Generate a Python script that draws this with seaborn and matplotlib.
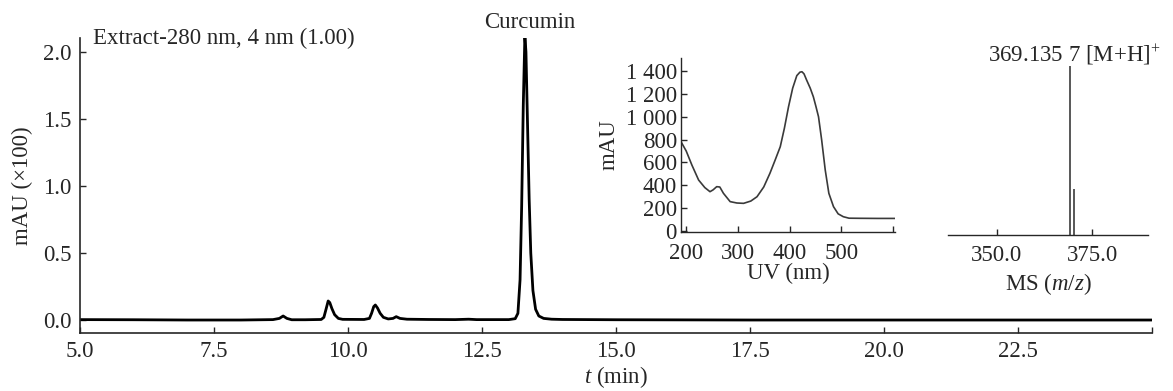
import numpy as np
import pandas as pd
import matplotlib
matplotlib.use("Agg")
import matplotlib.pyplot as plt
import seaborn as sns

# ---------------- data ----------------
# Chromatogram (280 nm), t in min, absorbance in mAU x100
chrom_t = [5.0, 6.0, 7.0, 8.0, 8.6, 8.72, 8.79, 8.86, 8.95, 9.2, 9.5, 9.55, 9.59, 9.63,
           9.66, 9.70, 9.75, 9.82, 9.9, 10.3, 10.40, 10.44, 10.48, 10.51, 10.55, 10.60,
           10.66, 10.75, 10.84, 10.90, 10.97, 11.1, 11.5, 12.0, 12.25, 12.4, 13.0, 13.12,
           13.17, 13.21, 13.24, 13.27, 13.30, 13.32, 13.35, 13.38, 13.41, 13.45, 13.50,
           13.56, 13.65, 13.8, 14.0, 15.0, 17.5, 20.0, 22.5, 25.0]
chrom_mau = [0.003, 0.002, 0.0, 0.0, 0.003, 0.012, 0.03, 0.012, 0.002, 0.002, 0.004, 0.02,
             0.08, 0.142, 0.13, 0.085, 0.04, 0.012, 0.005, 0.004, 0.012, 0.05, 0.10, 0.112,
             0.09, 0.05, 0.02, 0.008, 0.012, 0.025, 0.012, 0.006, 0.004, 0.003, 0.006, 0.003,
             0.003, 0.01, 0.05, 0.3, 0.85, 1.6, 2.12, 2.0, 1.45, 0.9, 0.5, 0.22, 0.08, 0.03,
             0.012, 0.006, 0.004, 0.002, 0.0, 0.0, 0.0, 0.0]

# UV spectrum of the curcumin peak
uv_nm = [190, 200, 211, 224, 236, 246, 252, 259, 265, 272, 285, 298, 311, 325, 337, 350,
         362, 372, 382, 390, 398, 406, 414, 420, 424, 428, 433, 440, 446, 451, 456, 462,
         469, 476, 485, 494, 504, 515, 537, 570, 604]
uv_mau = [781, 700, 577, 446, 380, 344, 360, 388, 385, 330, 257, 245, 242, 262, 300, 385,
          505, 620, 738, 900, 1088, 1250, 1360, 1390, 1394, 1375, 1321, 1250, 1175, 1090,
          1000, 800, 534, 330, 213, 150, 125, 112, 111, 110, 110]

# MS spectrum (relative intensity)
ms_mz = [369.1357, 370.2]
ms_int = [1.0, 0.27]

main_xticks = [5.0, 7.5, 10.0, 12.5, 15.0, 17.5, 20.0, 22.5, 25.0]
main_xlabels = ["5.0", "7.5", "10.0", "12.5", "15.0", "17.5", "20.0", "22.5", ""]
main_yticks = [0.0, 0.5, 1.0, 1.5, 2.0]
uv_xticks = [200, 300, 400, 500, 600]
uv_xlabels = ["200", "300", "400", "500", ""]
uv_yticks = [0, 200, 400, 600, 800, 1000, 1200, 1400]
uv_ylabels = ["0", "200", "400", "600", "800", "1 000", "1 200", "1 400"]
ms_xticks = [350.0, 375.0]
ms_xlabels = ["350.0", "375.0"]

# ---------------- style ----------------
sns.set_theme(style="ticks")
plt.rcParams["font.family"] = ["Liberation Serif", "DejaVu Serif"]
plt.rcParams["mathtext.fontset"] = "custom"
plt.rcParams["mathtext.rm"] = "Liberation Serif"
plt.rcParams["mathtext.it"] = "Liberation Serif:italic"
FS = 16.5

fig = plt.figure(figsize=(11.73, 3.91), dpi=100)

# ---------------- main chromatogram ----------------
ax = fig.add_axes([0.0682, 0.1483, 0.9139, 0.7545])
df_c = pd.DataFrame({"t": chrom_t, "mau": chrom_mau})
sns.lineplot(data=df_c, x="t", y="mau", ax=ax, color="black", linewidth=2.0)
ax.set_xlim(5.0, 25.0)
ax.set_ylim(-0.097, 2.104)
ax.set_xticks(main_xticks)
ax.set_xticklabels(main_xlabels)
ax.set_yticks(main_yticks)
ax.set_yticklabels([f"{v:.1f}" for v in main_yticks])
for s in ["top", "right"]:
    ax.spines[s].set_visible(False)
for s in ["left", "bottom"]:
    ax.spines[s].set_linewidth(1.2)
ax.tick_params(direction="in", length=4, width=1.0, labelsize=FS, pad=6)
ax.set_xlabel("$t$ (min)", fontsize=FS, labelpad=1)
ax.set_ylabel("mAU (×100)", fontsize=FS, labelpad=7)
ax.text(5.25, 2.104, "Extract-280 nm, 4 nm (1.00)", fontsize=FS, va="center", ha="left")
ax.text(13.39, 2.14, "Curcumin", fontsize=FS, va="bottom", ha="center", clip_on=False)

# ---------------- UV inset ----------------
ax_uv = fig.add_axes([0.5806, 0.4066, 0.1824, 0.445])
df_uv = pd.DataFrame({"nm": uv_nm, "mau": uv_mau})
sns.lineplot(data=df_uv, x="nm", y="mau", ax=ax_uv, color="#3a3a3a", linewidth=1.2)
ax_uv.set_xlim(190, 604)
ax_uv.set_ylim(-9, 1514)
ax_uv.set_xticks(uv_xticks)
ax_uv.set_xticklabels(uv_xlabels)
ax_uv.set_yticks(uv_yticks)
ax_uv.set_yticklabels(uv_ylabels)
for s in ["top", "right"]:
    ax_uv.spines[s].set_visible(False)
for s in ["left", "bottom"]:
    ax_uv.spines[s].set_linewidth(1.0)
ax_uv.tick_params(direction="in", length=4, width=1.0, labelsize=FS)
ax_uv.tick_params(axis="y", pad=3)
ax_uv.tick_params(axis="x", pad=8)
ax_uv.set_xlabel("UV (nm)", fontsize=FS, labelpad=-1)
ax_uv.set_ylabel("mAU", fontsize=FS, labelpad=4)
ax_uv.patch.set_alpha(0)

# ---------------- MS inset ----------------
ax_ms = fig.add_axes([0.8082, 0.399, 0.1705, 0.4476])
ax_ms.vlines(ms_mz, 0, ms_int, colors="#4a4a4a", linewidth=1.3)
ax_ms.set_xlim(337.3, 389.5)
ax_ms.set_ylim(0, 1.035)
ax_ms.set_xticks(ms_xticks)
ax_ms.set_xticklabels(ms_xlabels)
ax_ms.set_yticks([])
for s in ["top", "right", "left"]:
    ax_ms.spines[s].set_visible(False)
ax_ms.spines["bottom"].set_linewidth(1.0)
ax_ms.tick_params(axis="x", direction="in", length=4, width=1.0, labelsize=FS, pad=7)
ax_ms.set_xlabel("MS ($m/z$)", fontsize=FS, labelpad=4)
ax_ms.text(0.2, 1.03, "369.135 7 [M+H]$^{+}$", transform=ax_ms.transAxes,
           fontsize=FS, va="center", ha="left", clip_on=False)
ax_ms.patch.set_alpha(0)

fig.savefig("out.png", dpi=100)
